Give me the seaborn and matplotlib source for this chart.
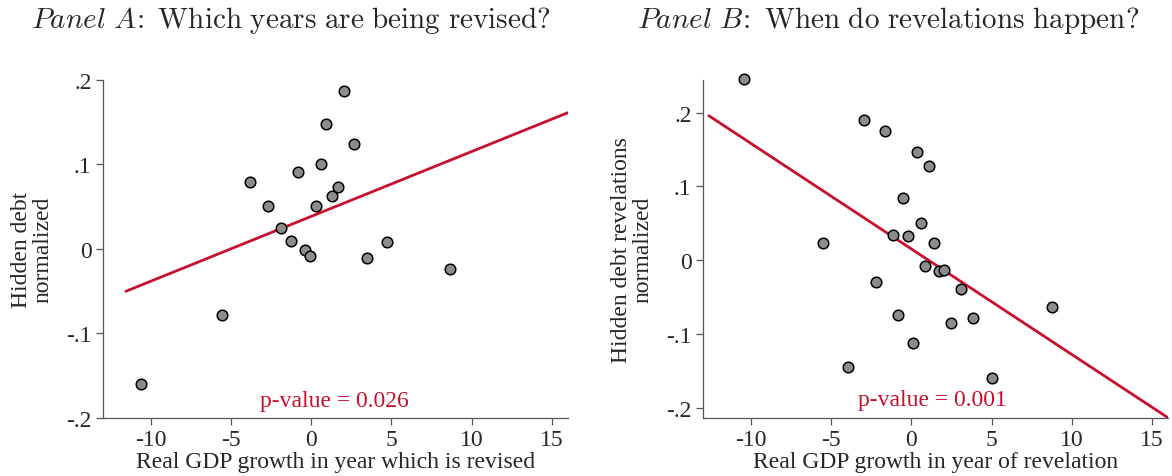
import numpy as np
import pandas as pd
import seaborn as sns
import matplotlib.pyplot as plt
from matplotlib import font_manager

# Panel A: hidden debt vs growth in the revised year
gdp_revised = [-10.6, -5.57, -3.82, -2.67, -1.89, -1.27, -0.81, -0.41, -0.05, 0.28,
               0.62, 0.92, 1.29, 1.66, 2.07, 2.65, 3.50, 4.74, 8.65]
debt_revised = [-0.160, -0.079, 0.0785, 0.050, 0.024, 0.0095, 0.0907, -0.002, -0.009, 0.051,
                0.1006, 0.148, 0.0627, 0.073, 0.1866, 0.124, -0.0107, 0.0083, -0.0245]
fit_a_x = [-11.55, 16.0]
fit_a_y = [-0.0505, 0.161]

# Panel B: revelations vs growth in the year of revelation
gdp_reveal = [-10.40, -5.52, -3.95, -2.96, -2.22, -1.64, -1.13, -0.81, -0.49, -0.18,
              0.12, 0.35, 0.60, 0.83, 1.11, 1.41, 1.71, 2.06, 2.45, 3.07, 3.86, 5.01, 8.76]
debt_reveal = [0.2449, 0.0234, -0.1439, 0.1894, -0.0289, 0.1745, 0.0343, -0.0731, 0.0839, 0.0334,
               -0.1118, 0.147, 0.050, -0.0072, 0.128, 0.023, -0.014, -0.0131, -0.0852, -0.0383,
               -0.0776, -0.1583, -0.0636]
fit_b_x = [-12.62, 16.0]
fit_b_y = [0.1957, -0.2127]

yticks = [-0.2, -0.1, 0.0, 0.1, 0.2]
ytick_labels = ["-.2", "-.1", "0", ".1", ".2"]
xticks = [-10, -5, 0, 5, 10, 15]
xtick_labels = ["-10", "-5", "0", "5", "10", "15"]

sns.set_style("white")

# pick a Times-like serif that is actually installed
installed = {f.name for f in font_manager.fontManager.ttflist}
serif = [n for n in ["Liberation Serif", "Times New Roman", "Nimbus Roman",
                     "TeX Gyre Termes", "STIXGeneral"] if n in installed]
plt.rcParams["font.family"] = serif + ["DejaVu Serif"]
plt.rcParams["mathtext.fontset"] = "cm"
plt.rcParams["axes.unicode_minus"] = False

red = "#C8102E"
grey = "#8C8C8C"
fs = 17

fig = plt.figure(figsize=(11.72, 4.77), dpi=100)
ax_a = fig.add_axes([0.0876, 0.1226, 0.3970, 0.7082])
ax_b = fig.add_axes([0.5996, 0.1226, 0.3970, 0.7082])

panels = [
    (ax_a, gdp_revised, debt_revised, fit_a_x, fit_a_y, (-0.2, 0.2),
     "Real GDP growth in year which is revised", "Hidden debt\nnormalized",
     "p-value = 0.026", (1.42, -0.18)),
    (ax_b, gdp_reveal, debt_reveal, fit_b_x, fit_b_y, (-0.2124, 0.2444),
     "Real GDP growth in year of revelation", "Hidden debt revelations\nnormalized",
     "p-value = 0.001", (1.34, -0.188)),
]

for ax, gx, dy, fx, fy, ylim, xlab, ylab, ptxt, ppos in panels:
    df = pd.DataFrame({"gdp": gx, "debt": dy})
    fit = pd.DataFrame({"gdp": fx, "debt": fy})
    sns.lineplot(data=fit, x="gdp", y="debt", color=red, lw=2.0, ax=ax, zorder=2)
    sns.scatterplot(data=df, x="gdp", y="debt", s=58, color=grey, edgecolor="black",
                    linewidth=1.1, ax=ax, zorder=3, clip_on=False)
    ax.set_xlim(-13, 16)
    ax.set_ylim(*ylim)
    ax.set_xticks(xticks, xtick_labels, fontsize=fs)
    ax.set_yticks(yticks, ytick_labels, fontsize=fs)
    ax.tick_params(direction="out", length=5, width=0.9, color="#555555", pad=3,
                   left=True, bottom=True)
    ax.set_xlabel(xlab, fontsize=fs, labelpad=1)
    ax.set_ylabel(ylab, fontsize=fs, linespacing=1.0, va="center")
    ax.yaxis.set_label_coords(-0.152, 0.5)
    for side in ["top", "right"]:
        ax.spines[side].set_visible(False)
    for side in ["left", "bottom"]:
        ax.spines[side].set_color("#555555")
        ax.spines[side].set_linewidth(0.9)
    ax.text(ppos[0], ppos[1], ptxt, color=red, fontsize=fs, ha="center", va="center")
    ax.set_facecolor("white")

fig.text(0.2483, 0.956, r"$\mathit{Panel\ A}\!:\ \mathrm{Which\ years\ are\ being\ revised?}$",
         fontsize=21, ha="center", va="center")
fig.text(0.7577, 0.956, r"$\mathit{Panel\ B}\!:\ \mathrm{When\ do\ revelations\ happen?}$",
         fontsize=21, ha="center", va="center")

fig.savefig("out.png", dpi=100, facecolor="white")
